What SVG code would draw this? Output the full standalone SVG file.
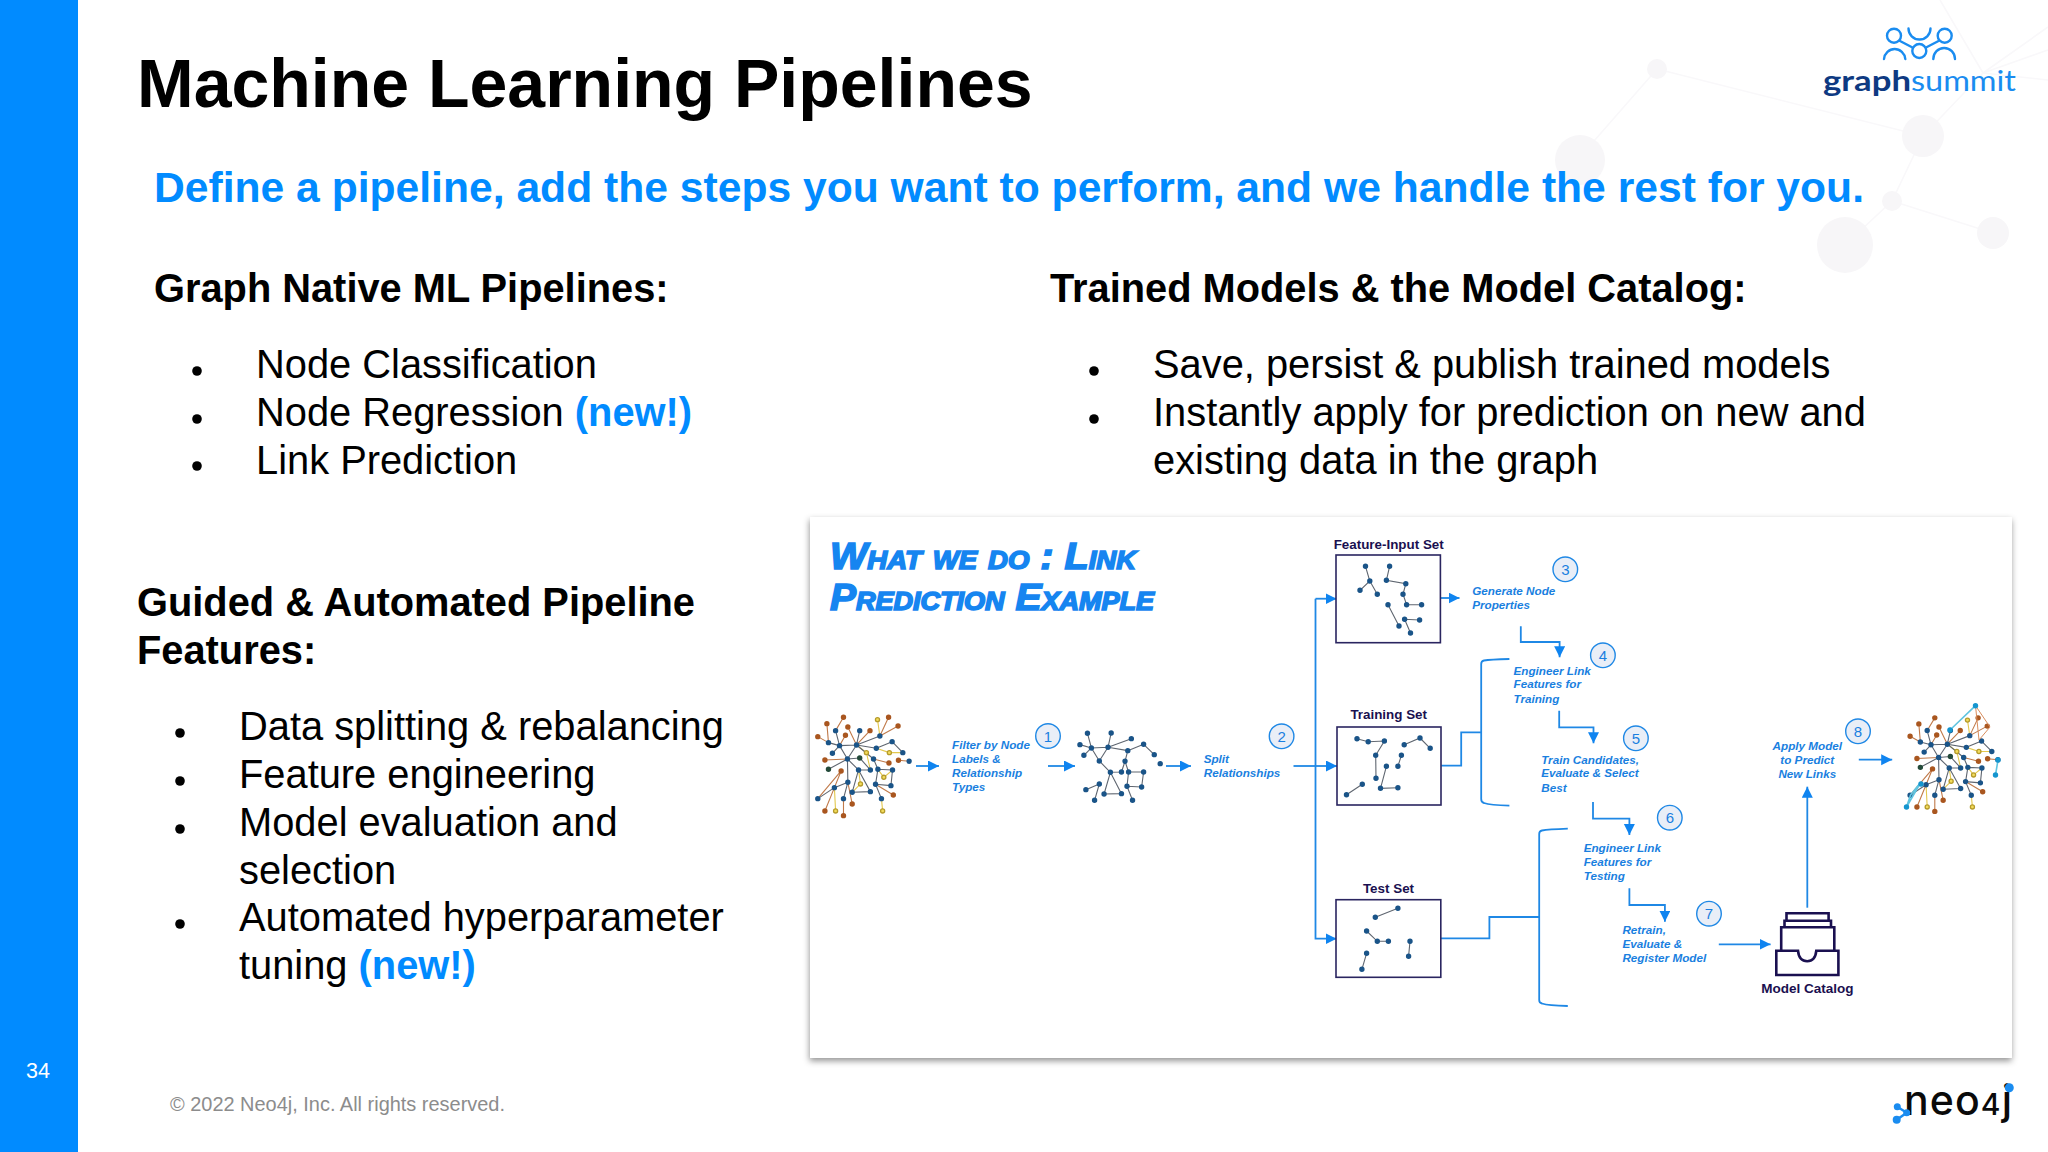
<svg xmlns="http://www.w3.org/2000/svg" xmlns:xlink="http://www.w3.org/1999/xlink" width="2048" height="1152" viewBox="0 0 2048 1152">
<style>
text{font-family:"Liberation Sans",Arial,sans-serif}
.h{font-weight:700;font-size:39.8px;fill:#000}
.b{font-size:39.85px;fill:#000}
.new{font-weight:700;fill:#018bff}
.step{font-weight:700;font-style:italic;font-size:11.7px;fill:#1a7fe0}
.set{font-weight:700;font-size:13.4px;fill:#1a1050;text-anchor:middle}
.num{font-size:15px;fill:#1a7fe0;text-anchor:middle}
.ncirc{fill:#e9eef7;stroke:#1f88e5;stroke-width:1.4}
.dot{fill:#000}
.conn{fill:none;stroke:#1f88e5;stroke-width:1.8}
.arr{fill:none;stroke:#1f88e5;stroke-width:1.8;marker-end:url(#ah)}
.box{fill:#fff;stroke:#2a2560;stroke-width:1.6}
.e{fill:none;stroke:#5f6670;stroke-width:1.1;vector-effect:non-scaling-stroke}
.n{fill:none;stroke:#1a5488;stroke-width:5.4;stroke-linecap:round;vector-effect:non-scaling-stroke}
.bg{fill:#f7f6f8}
.bgl{fill:none;stroke:#f9f8fa;stroke-width:1.6}
.lg{fill:none;stroke:#1a8cf0;stroke-width:2.4;stroke-linecap:round}
</style>
<defs>
<marker id="ah" markerUnits="userSpaceOnUse" markerWidth="12" markerHeight="12" refX="11" refY="5.5" orient="auto"><path d="M0 0L11 5.5L0 11Z" fill="#0f84f0"/></marker>
<filter id="sh" x="-3%" y="-3%" width="106%" height="106%"><feDropShadow dx="-0.5" dy="3" stdDeviation="3" flood-color="#000" flood-opacity=".42"/></filter>
<g id="fullGraph">
<path class="e" style="stroke:#c07a4a" d="M110 622L90 662M68 641L72 698M45 680L72 698M121 651L143 705M115 676L100 707M177 662L143 705M224 622L202 678M248 648L202 678M63 750L120 747M104 783L87 833M104 783L45 866M225 759L186 747M249 751L276 754M236 855L191 823M132 882L121 817M63 903L87 833M110 917L110 866"/>
<path class="e" style="stroke:#e3c84e" d="M196 629L202 678M168 728L143 705M168 728L178 780M226 728L193 715M226 728L260 728M212 802L197 778M212 802L234 780M153 822L148 780M153 822L132 847M90 903L87 833M209 903L206 866"/>
<path class="e" d="M90 662L100 707M72 698L100 707M100 707L143 705M143 705L151 662M143 705L202 678M143 705L193 715M193 715L233 695M233 695L260 728M143 705L120 747M82 730L100 707M120 747L100 707M120 747L121 817M120 747L148 780M143 705L186 747M186 747L197 778M148 780L178 780M148 780L132 847M148 780L178 845M132 847L178 845M197 778L234 780M197 778L191 823M191 823L230 827M234 780L230 827M191 823L206 866M121 817L87 833M87 833L45 866M121 817L110 866M151 744L120 747M151 744L178 780M72 778L120 747"/>
<path class="n" d="M90 662h0M72 698h0M100 707h0M143 705h0M151 662h0M202 678h0M193 715h0M233 695h0M260 728h0M276 754h0M82 730h0M120 747h0M186 747h0M148 780h0M178 780h0M197 778h0M234 780h0M121 817h0M87 833h0M45 866h0M110 866h0M132 847h0M178 845h0M191 823h0M230 827h0M206 866h0"/>
<path class="n" style="stroke:#a9561f" d="M110 622h0M68 641h0M45 680h0M121 651h0M115 676h0M177 662h0M224 622h0M248 648h0M63 750h0M104 783h0M225 759h0M249 751h0M236 855h0M132 882h0M63 903h0M110 917h0"/>
<path class="n" style="stroke:#b59a2a" d="M196 629h0M168 728h0M226 728h0M212 802h0M153 822h0M90 903h0M209 903h0"/>
<path class="n" style="stroke:#f2dc5c;stroke-width:2.8" d="M196 629h0M168 728h0M226 728h0M212 802h0M153 822h0M90 903h0M209 903h0"/>
<path class="n" style="stroke:#234a3a" d="M151 744h0M72 778h0"/>
</g>
</defs>

<rect width="2048" height="1152" fill="#fff"/>
<g id="background-network">
<path class="bgl" d="M1657 69L1923 136L1892 201L1845 245M1892 201L1993 233M1923 136L1983 73L1940 0M1983 73L2048 27M1983 73L2048 50M1983 73L2048 80M1657 69L1580 157"/>
<circle class="bg" cx="1657" cy="69" r="10"/><circle class="bg" cx="1923" cy="136" r="21"/><circle class="bg" cx="1892" cy="201" r="10"/><circle class="bg" cx="1845" cy="245" r="28"/><circle class="bg" cx="1993" cy="233" r="16"/><circle class="bg" cx="1580" cy="160" r="25"/>
</g>
<rect id="side-band" width="78" height="1152" fill="#018bff"/>
<text id="page-number" x="26" y="1078" font-size="21.5" fill="#fff">34</text>

<g id="logo-graphsummit">
<circle class="lg" cx="1894" cy="35.7" r="7"/><circle class="lg" cx="1944.7" cy="35.7" r="7"/><circle class="lg" cx="1919.3" cy="51" r="7"/>
<path class="lg" d="M1908.5 28.5A11 11 0 0 0 1930.5 28.5M1900 41L1912.5 47.5M1938.5 41L1926 47.5M1884 59A10.7 11 0 0 1 1905.3 59M1933.3 59A10.8 11 0 0 1 1955 59"/>
<text x="1823" y="91" font-size="29" style="font-family:Lato,'Open Sans',sans-serif" font-weight="700" fill="#0e3a82" textLength="88" lengthAdjust="spacingAndGlyphs">graph</text>
<text x="1911" y="91" font-size="29" style="font-family:Lato,'Open Sans',sans-serif" fill="#1a8cf0" textLength="105" lengthAdjust="spacingAndGlyphs">summit</text>
</g>

<text id="title" x="137" y="107" font-size="68" font-weight="700" fill="#000">Machine Learning Pipelines</text>
<text id="subtitle" x="154" y="202" font-size="42.64" font-weight="700" fill="#018bff">Define a pipeline, add the steps you want to perform, and we handle the rest for you.</text>

<g id="native-pipelines">
<text class="h" x="154" y="302">Graph Native ML Pipelines:</text>
<text class="b" x="256" y="378">Node Classification</text>
<text class="b" x="256" y="426">Node Regression <tspan class="new">(new!)</tspan></text>
<text class="b" x="256" y="474">Link Prediction</text>
<circle class="dot" cx="197" cy="371" r="4.8"/><circle class="dot" cx="197" cy="419" r="4.8"/><circle class="dot" cx="197" cy="466" r="4.8"/>
</g>
<g id="trained-models">
<text class="h" x="1050" y="302">Trained Models &amp; the Model Catalog:</text>
<text class="b" x="1153" y="378">Save, persist &amp; publish trained models</text>
<text class="b" x="1153" y="426">Instantly apply for prediction on new and</text>
<text class="b" x="1153" y="474">existing data in the graph</text>
<circle class="dot" cx="1094" cy="371" r="4.8"/><circle class="dot" cx="1094" cy="419" r="4.8"/>
</g>
<g id="guided-features">
<text class="h" x="137" y="616">Guided &amp; Automated Pipeline</text>
<text class="h" x="137" y="664">Features:</text>
<text class="b" x="239" y="740">Data splitting &amp; rebalancing</text>
<text class="b" x="239" y="788">Feature engineering</text>
<text class="b" x="239" y="836">Model evaluation and</text>
<text class="b" x="239" y="884">selection</text>
<text class="b" x="239" y="931">Automated hyperparameter</text>
<text class="b" x="239" y="979">tuning <tspan class="new">(new!)</tspan></text>
<circle class="dot" cx="180" cy="733" r="4.8"/><circle class="dot" cx="180" cy="781" r="4.8"/><circle class="dot" cx="180" cy="829" r="4.8"/><circle class="dot" cx="180" cy="924" r="4.8"/>
</g>
<text id="footer" x="170" y="1110.5" font-size="19.95" fill="#8c8c8c">© 2022 Neo4j, Inc. All rights reserved.</text>
<g id="logo-neo4j">
<text x="1904" y="1115" font-size="41" style="font-family:Inter,'Open Sans',sans-serif" font-weight="500" fill="#0a0a0a" textLength="108">neo<tspan font-size="30">4</tspan>j</text>
<circle cx="2009.3" cy="1087.7" r="4.5" fill="#1a8cf0"/>
<path d="M1897.3 1106.7L1906.7 1112.7L1896.7 1119.7" fill="none" stroke="#1a8cf0" stroke-width="2.4"/>
<circle cx="1897.3" cy="1106.7" r="3.5" fill="#1a8cf0"/><circle cx="1906.7" cy="1112.7" r="3.5" fill="#1a8cf0"/><circle cx="1896.7" cy="1119.7" r="4" fill="#1a8cf0"/>
</g>

<rect id="card" x="810" y="517" width="1202" height="541" fill="#fff" filter="url(#sh)"/>
<g id="card-title">
<text x="830" y="569" font-size="36" font-weight="700" font-style="italic" fill="#1685f0" stroke="#1685f0" stroke-width="1.6" style="font-variant:small-caps" textLength="306" lengthAdjust="spacingAndGlyphs">What we do : Link</text>
<text x="830" y="610" font-size="36" font-weight="700" font-style="italic" fill="#1685f0" stroke="#1685f0" stroke-width="1.6" style="font-variant:small-caps" textLength="324" lengthAdjust="spacingAndGlyphs">Prediction Example</text>
</g>

<g id="connectors">
<path class="arr" d="M916 766H939"/>
<path class="arr" d="M1048 766H1075"/>
<path class="arr" d="M1166 766H1191"/>
<path class="conn" d="M1293.5 766H1315.5"/>
<path class="arr" d="M1315.5 598.7V938.7H1336.5"/>
<path class="arr" d="M1315.5 598.7H1336.5"/>
<path class="arr" d="M1315.5 766H1337"/>
<path class="arr" d="M1441 598H1459.5"/>
<path class="arr" d="M1520.8 626.3V642H1559.6V657.3"/>
<path class="arr" d="M1559.2 710.7V727.3H1593.5V743.3"/>
<path class="arr" d="M1593 802V818.7H1629.4V835"/>
<path class="arr" d="M1629.4 888.3V905H1664.9V921.7"/>
<path class="arr" d="M1718.8 944.3H1770.6"/>
<path class="arr" d="M1807.3 907.7V786.7"/>
<path class="arr" d="M1858.8 759.7H1892.2"/>
<path class="conn" d="M1509.4 659Q1490 659.5 1484 660.5Q1481.2 661 1481.2 664V799Q1481.2 802.5 1484 803Q1490 805 1509.4 805.7"/>
<path class="conn" d="M1441.2 765.7H1461.2V732.3H1481.2"/>
<path class="conn" d="M1567.8 828.7Q1548 829.5 1542 830.5Q1539.2 831 1539.2 834V1000Q1539.2 1003 1542 1003.5Q1548 1005.5 1567.8 1006"/>
<path class="conn" d="M1440.8 938.3H1489.4V917H1539.2"/>
</g>

<g id="graph-input"><use xlink:href="#fullGraph" transform="matrix(.3954 0 0 .3333 800 510)"/></g>
<g id="graph-filtered" transform="matrix(.3954 0 0 .3333 800 510)">
<path class="e" d="M727 670L737 714M787 669L779 712M838 686L779 712M708 704L737 714M737 714L779 712M779 712L829 722M829 722L869 703M869 703L896 734M718 736L737 714M737 714L757 753M779 712L757 753M757 753L785 787M829 722L822 754M822 754L813 786M785 787L813 786M831 786L869 786M831 786L822 754M831 786L827 829M869 786L864 831M827 829L864 831M827 829L841 871M757 822L723 839M757 822L745 871M785 787L769 852M785 787L813 851M769 852L813 851"/>
<path class="n" d="M727 670h0M787 669h0M838 686h0M708 704h0M737 714h0M779 712h0M718 736h0M757 753h0M829 722h0M869 703h0M896 734h0M911 761h0M822 754h0M785 787h0M813 786h0M831 786h0M869 786h0M827 829h0M864 831h0M757 822h0M723 839h0M745 871h0M769 852h0M813 851h0M841 871h0"/>
</g>
<g id="graph-output">
<use xlink:href="#fullGraph" transform="matrix(.38 0 0 .317 1893 520.7)"/>
<path d="M1906.5 807L1921 782L1910.6 795ZM1950 730L1975.5 705.7M1998 760L1995.5 775" fill="none" stroke="#5fc4e0" stroke-width="1.6"/>
<path d="M1975.5 705.7L1979 740L1990 727Z" fill="none" stroke="#d98e5e" stroke-width="1"/>
<path d="M1906.5 807h0M1921 784h0M1950 730h0M1975.5 705.7h0M1998 760h0M1995.5 775h0" fill="none" stroke="#1595cf" stroke-width="5.4" stroke-linecap="round"/>
</g>

<g id="feature-input-set">
<text class="set" x="1388.7" y="548.7">Feature-Input Set</text>
<rect class="box" x="1336" y="555" width="104.4" height="87.7"/>
<path fill="none" stroke="#5f6670" stroke-width="1.1" d="M1365.5 566.3L1369.8 581L1360 590.3M1369.8 581L1377.3 594.3M1389.6 566.3L1386.4 580.3L1405.8 583.7L1403 594.3L1406.6 604.7L1421.6 604.7M1388 604.7L1399 626M1419.6 620L1404.6 619.3L1410.5 633"/>
<path fill="none" stroke="#1a5488" stroke-width="5.4" stroke-linecap="round" d="M1365.5 566.3h0M1369.8 581h0M1360 590.3h0M1377.3 594.3h0M1389.6 566.3h0M1386.4 580.3h0M1405.8 583.7h0M1403 594.3h0M1406.6 604.7h0M1421.6 604.7h0M1388 604.7h0M1399 626h0M1419.6 620h0M1404.6 619.3h0M1410.5 633h0"/>
</g>
<g id="training-set">
<text class="set" x="1388.7" y="719">Training Set</text>
<rect class="box" x="1337" y="727" width="104" height="78"/>
<path fill="none" stroke="#5f6670" stroke-width="1.1" d="M1357 738.7L1368.2 741.7L1384.4 741L1375.7 755.3L1376 778.3M1386.4 766.3L1380.5 788.3L1397.9 787.7M1401.4 755.3L1397.9 766.3M1404.2 744.7L1420 738L1430.2 748.3M1346.5 794.7L1362.3 784.3"/>
<path fill="none" stroke="#1a5488" stroke-width="5.4" stroke-linecap="round" d="M1357 738.7h0M1368.2 741.7h0M1384.4 741h0M1375.7 755.3h0M1376 778.3h0M1386.4 766.3h0M1380.5 788.3h0M1397.9 787.7h0M1401.4 755.3h0M1397.9 766.3h0M1404.2 744.7h0M1420 738h0M1430.2 748.3h0M1346.5 794.7h0M1362.3 784.3h0"/>
</g>
<g id="test-set">
<text class="set" x="1388.5" y="893.3">Test Set</text>
<rect class="box" x="1336" y="899.7" width="104.8" height="77.6"/>
<path fill="none" stroke="#5f6670" stroke-width="1.1" d="M1375.3 917.3L1397.9 908.3M1366.6 931L1377.3 941.3L1388.4 941.3M1410 941.3L1408.6 956.3M1366.6 953.3L1361.9 969.3"/>
<path fill="none" stroke="#1a5488" stroke-width="5.4" stroke-linecap="round" d="M1375.3 917.3h0M1397.9 908.3h0M1366.6 931h0M1377.3 941.3h0M1388.4 941.3h0M1410 941.3h0M1408.6 956.3h0M1366.6 953.3h0M1361.9 969.3h0"/>
</g>
<g id="model-catalog">
<path fill="none" stroke="#1a1050" stroke-width="2.6" d="M1776.3 950.7H1798Q1799 961.3 1807.2 961.3Q1815.3 961.3 1816.3 950.7H1838.4V975H1776.3ZM1781.2 950.7V927.3H1834.3V950.7M1784.5 927.3V920.7H1831V927.3M1786.5 920.7V913.3H1828.6V920.7"/>
<text class="set" x="1807.3" y="993.3" style="font-size:13.5px">Model Catalog</text>
</g>

<g id="step-1"><circle class="ncirc" cx="1048" cy="736" r="12.3"/><text class="num" x="1048" y="741.5">1</text>
<text class="step" x="952" y="749.3">Filter by Node</text><text class="step" x="952" y="763.3">Labels &amp;</text><text class="step" x="952" y="777.3">Relationship</text><text class="step" x="952" y="791">Types</text></g>
<g id="step-2"><circle class="ncirc" cx="1281.6" cy="736.3" r="12.3"/><text class="num" x="1281.6" y="741.8">2</text>
<text class="step" x="1203.7" y="762.7">Split</text><text class="step" x="1203.7" y="777.3">Relationships</text></g>
<g id="step-3"><circle class="ncirc" cx="1565.3" cy="569.3" r="12.3"/><text class="num" x="1565.3" y="574.8">3</text>
<text class="step" x="1472.2" y="595">Generate Node</text><text class="step" x="1472.2" y="608.7">Properties</text></g>
<g id="step-4"><circle class="ncirc" cx="1602.9" cy="655.3" r="12.3"/><text class="num" x="1602.9" y="660.8">4</text>
<text class="step" x="1513.5" y="675">Engineer Link</text><text class="step" x="1513.5" y="688.3">Features for</text><text class="step" x="1513.5" y="702.7">Training</text></g>
<g id="step-5"><circle class="ncirc" cx="1635.9" cy="738.3" r="12.3"/><text class="num" x="1635.9" y="743.8">5</text>
<text class="step" x="1541.2" y="763.7">Train Candidates,</text><text class="step" x="1541.2" y="777.3">Evaluate &amp; Select</text><text class="step" x="1541.2" y="791.7">Best</text></g>
<g id="step-6"><circle class="ncirc" cx="1669.8" cy="817.7" r="12.3"/><text class="num" x="1669.8" y="823.2">6</text>
<text class="step" x="1583.7" y="852.3">Engineer Link</text><text class="step" x="1583.7" y="866">Features for</text><text class="step" x="1583.7" y="880.3">Testing</text></g>
<g id="step-7"><circle class="ncirc" cx="1709" cy="913.7" r="12.3"/><text class="num" x="1709" y="919.2">7</text>
<text class="step" x="1622.4" y="934.3">Retrain,</text><text class="step" x="1622.4" y="948.3">Evaluate &amp;</text><text class="step" x="1622.4" y="962.3">Register Model</text></g>
<g id="step-8" style="text-anchor:middle"><circle class="ncirc" cx="1858" cy="731.3" r="12.3"/><text class="num" x="1858" y="736.8">8</text>
<text class="step" x="1807.3" y="750">Apply Model</text><text class="step" x="1807.3" y="764">to Predict</text><text class="step" x="1807.3" y="777.7">New Links</text></g>
</svg>
